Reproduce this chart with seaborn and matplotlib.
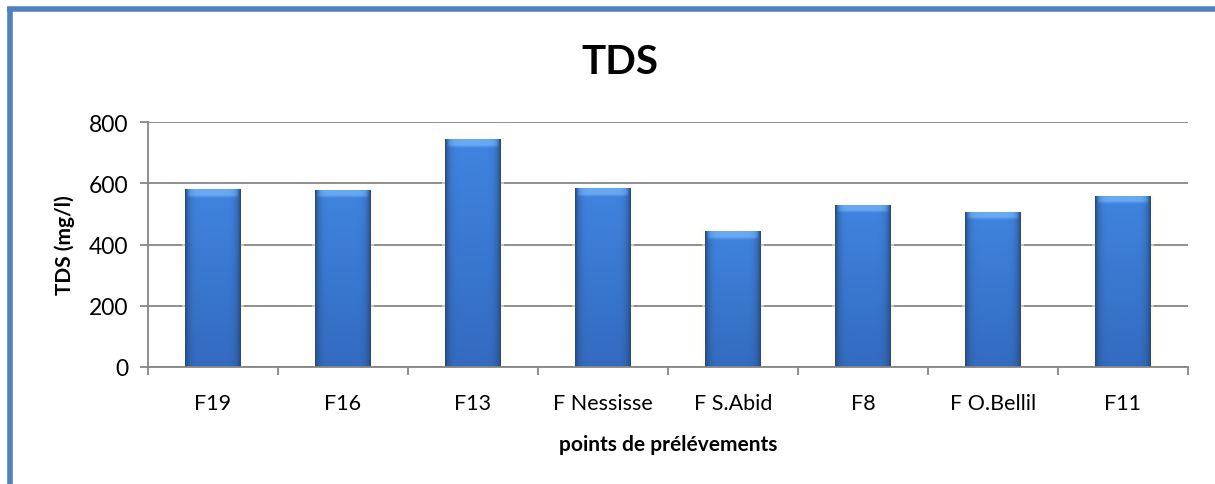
import numpy as np
import pandas as pd
import matplotlib
matplotlib.use("Agg")
import matplotlib.pyplot as plt
from matplotlib.lines import Line2D
from matplotlib.ticker import FixedLocator, NullFormatter
import seaborn as sns

# Sampling points and their total dissolved solids (mg/l)
points = ["F19", "F16", "F13", "F Nessisse", "F S.Abid", "F8", "F O.Bellil", "F11"]
tds_values = [581, 578, 744, 584, 444, 529, 507, 559]
y_ticks = [0, 200, 400, 600, 800]

title_text = "TDS"
x_label = "points de prélévements"
y_label = "TDS (mg/l)"

df = pd.DataFrame({"point": points, "tds": tds_values})

sns.set_theme(style="white")
plt.rcParams["font.family"] = ["Lato", "DejaVu Sans"]
plt.rcParams["text.color"] = "black"
plt.rcParams["axes.labelcolor"] = "black"
plt.rcParams["xtick.color"] = "black"
plt.rcParams["ytick.color"] = "black"

W, H, DPI = 1215, 485, 100
fig = plt.figure(figsize=(W / DPI, H / DPI), dpi=DPI)
ax = fig.add_axes([148 / W, 1 - 368 / H, (1188 - 148) / W, (368 - 123) / H])

grid_col = "#868686"
base_col = "#3A78D0"

sns.barplot(data=df, x="point", y="tds", color=base_col, width=0.43,
            saturation=1, ax=ax, zorder=3, linewidth=0)

ax.set_ylim(0, 800)
ax.set_xlim(-0.5, len(points) - 0.5)

# horizontal gridlines
ax.yaxis.set_major_locator(FixedLocator(y_ticks))
ax.grid(axis="y", color=grid_col, linewidth=1.3, zorder=0)
ax.set_axisbelow(True)

# shaded fill for each bar: flat body, dark rims, light bevel on top
edge_c = np.array([0.15, 0.29, 0.50])
top_body = np.array([0.25, 0.52, 0.88])
bot_body = np.array([0.20, 0.42, 0.75])
cap_c = np.array([0.45, 0.70, 0.97])
nx, ny = 80, 300
u = np.linspace(0, 1, nx)
rim = np.abs(2 * u - 1) ** 7
for patch in list(ax.patches):
    x0, y0 = patch.get_x(), patch.get_y()
    w, h = patch.get_width(), patch.get_height()
    depth = np.linspace(0, h, ny)  # row 0 = top of the bar
    v = depth / h
    body = top_body[None, :] * (1 - v[:, None]) + bot_body[None, :] * v[:, None]
    img = body[:, None, :] * (1 - rim[None, :, None]) + edge_c[None, None, :] * rim[None, :, None]
    # bevel band near the top, narrowing towards the sides
    t = np.clip((28 - depth) / 10.0, 0, 1)
    side = np.clip(1 - rim * 1.4, 0, 1)
    k = (t[:, None] * side[None, :] * 0.8)[:, :, None]
    img = img * (1 - k) + cap_c[None, None, :] * k
    img = np.clip(img, 0, 1)
    im = ax.imshow(img, extent=(x0, x0 + w, y0, y0 + h), origin="upper",
                   aspect="auto", zorder=4, interpolation="bilinear")
    im.set_clip_path(patch)
    # soft halo around the bar
    ax.add_patch(plt.Rectangle((x0 - 0.02, y0), w + 0.04, h + 4,
                               facecolor="#FFF8DC", edgecolor="none",
                               alpha=0.5, zorder=2))

ax.set_xlim(-0.5, len(points) - 0.5)
ax.set_ylim(0, 800)

# spines
for s in ["top", "right"]:
    ax.spines[s].set_visible(False)
for s in ["left", "bottom"]:
    ax.spines[s].set_color(grid_col)
    ax.spines[s].set_linewidth(1.3)
    ax.spines[s].set_zorder(5)

# ticks: labels centred on bars, tick marks between categories
ax.set_xticks(range(len(points)))
ax.set_xticklabels(points, fontsize=15.5)
ax.xaxis.set_minor_locator(FixedLocator(np.arange(-0.5, len(points), 1.0)))
ax.xaxis.set_minor_formatter(NullFormatter())
ax.tick_params(axis="x", which="major", length=0, pad=19, labelcolor="black")
ax.tick_params(axis="x", which="minor", length=6, width=1.3, color=grid_col,
               direction="out", bottom=True)
ax.tick_params(axis="y", which="major", length=6, width=1.3, color=grid_col,
               direction="out", left=True, labelsize=16.5, pad=8,
               labelcolor="black")
ax.set_yticklabels([str(v) for v in y_ticks])

ax.set_xlabel(x_label, fontsize=15, fontweight="bold", labelpad=15, color="black")
ax.set_ylabel(y_label, fontsize=15, fontweight="bold", labelpad=10, color="black")

fig.text(620 / W, 1 - 63 / H, title_text, fontsize=29, fontweight="bold",
         ha="center", va="center", color="black")

# frame around the chart (top and left edges)
border_col = "#4F81BD"
fig.add_artist(Line2D([7 / W, 1.0], [1 - 10 / H, 1 - 10 / H], color=border_col,
                      linewidth=4, solid_capstyle="butt"))
fig.add_artist(Line2D([10 / W, 10 / W], [0, 1 - 8 / H], color=border_col,
                      linewidth=4, solid_capstyle="butt"))

fig.savefig("out.png", dpi=DPI, facecolor="white")
